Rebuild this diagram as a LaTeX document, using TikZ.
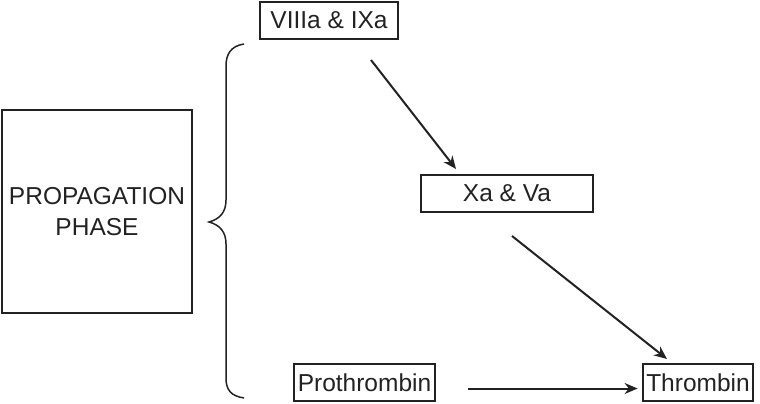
\documentclass[tikz,border=0pt]{standalone}
\usepackage{fontspec}
\setmainfont{Liberation Sans}
\usetikzlibrary{arrows.meta,calc}
\definecolor{inkgrey}{HTML}{222222}

\begin{document}
\begin{tikzpicture}[x=1pt, y=-1pt,
      factor/.style={draw=inkgrey, line width=2.8pt, text=inkgrey, inner sep=0pt,
                     font=\fontsize{24.5}{31}\selectfont, minimum height=37pt},
      flow/.style={draw=inkgrey, line width=2pt, -{Stealth[length=13pt,width=11pt]}},
    ]
      \useasboundingbox (0,0) rectangle (760,404);

      \node[factor, minimum width=190pt, minimum height=203pt, align=center]
        (phase) at (97,211.5) {PROPAGATION\\PHASE};
      \node[factor, minimum width=138pt] (viii) at (329,20.5)  {VIIIa \& IXa};
      \node[factor, minimum width=172pt] (xa)   at (507,193.5) {Xa \& Va};
      \node[factor, minimum width=141pt] (pro)  at (364.5,382.5) {Prothrombin};
      \node[factor, minimum width=110pt] (thr)  at (698,382.5) {Thrombin};

      \coordinate (viiiout) at (371,60);
      \coordinate (xain)    at (456,169);
      \coordinate (xaout)   at (512,236);
      \coordinate (thrin)   at (667,359);

      \draw[flow] (viiiout) -- (xain);
      \draw[flow] (xaout) -- (thrin);
      \draw[flow, shorten <=32pt, shorten >=4pt]
        ([yshift=-6pt]pro.east) -- ([yshift=-6pt]thr.west);

      \draw[inkgrey, line width=1.5pt]
        (244,44) .. controls (231,46) and (226,54) .. (226,66) -- (226,200)
        .. controls (226,212) and (220,219) .. (209,222)
        .. controls (220,225) and (226,232) .. (226,244) -- (226,378)
        .. controls (226,390) and (231,396) .. (244,398);
    \end{tikzpicture}
\end{document}
